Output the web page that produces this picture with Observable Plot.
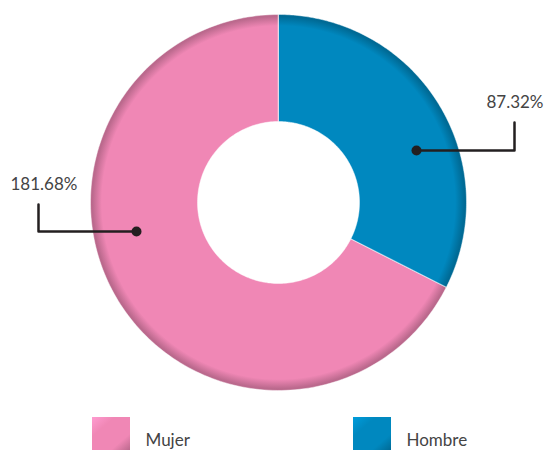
<!DOCTYPE html>
<html>
<head>
<meta charset="utf-8">
<script src="https://cdn.jsdelivr.net/npm/d3@7"></script>
<script src="https://cdn.jsdelivr.net/npm/@observablehq/plot@0.6"></script>
<style>
  html, body { margin: 0; padding: 0; background: #fff; }
  #chart svg { display: block; }
</style>
</head>
<body>
<div id="chart"></div>
<script>
// ---- data ----
const categories = ["Hombre", "Mujer"];
const values = [87.32, 181.68];
const labels = ["87.32%", "181.68%"];
const colors = ["#0088bf", "#f087b5"];
const legendOrder = ["Mujer", "Hombre"];

// ---- layout (pixel space) ----
const W = 547, H = 450;
const cx = 278, cy = 202, R = 188, r0 = 81;

const pie = d3.pie().sort(null).value(d => d.value);
const slices = pie(categories.map((c, i) => ({cat: c, value: values[i]})));

// polygon points for each slice
const arcPts = [];
slices.forEach(s => {
  const n = 180;
  const pts = [];
  for (let k = 0; k <= n; k++) {
    const a = s.startAngle + (s.endAngle - s.startAngle) * k / n;
    pts.push([cx + R * Math.sin(a), cy - R * Math.cos(a)]);
  }
  for (let k = n; k >= 0; k--) {
    const a = s.startAngle + (s.endAngle - s.startAngle) * k / n;
    pts.push([cx + r0 * Math.sin(a), cy - r0 * Math.cos(a)]);
  }
  pts.forEach(p => arcPts.push({cat: s.data.cat, x: p[0], y: p[1]}));
});

// leader lines (label anchors placed as in reference)
const leaders = [
  {cat: "Hombre", pts: [[514, 122], [514, 150], [416, 150]], text: [543, 107], anchor: "end"},
  {cat: "Mujer", pts: [[38, 204], [38, 231], [136, 231]], text: [10, 189], anchor: "start"}
];
const leaderPts = leaders.flatMap(l => l.pts.map(p => ({cat: l.cat, x: p[0], y: p[1]})));
const dots = leaders.map(l => ({cat: l.cat, x: l.pts[2][0], y: l.pts[2][1]}));
const labelRows = leaders.map(l => ({
  label: labels[categories.indexOf(l.cat)], x: l.text[0], y: l.text[1], anchor: l.anchor
}));

const legendPos = {Mujer: 92, Hombre: 353};
const legendRows = legendOrder.map(c => ({cat: c, x1: legendPos[c], x2: legendPos[c] + 38, y1: 417, y2: 450}));

const gradId = c => "grad-" + c;
const fillFor = c => `url(#${gradId(c)})`;
const font = "Lato, 'Open Sans', sans-serif";

const chart = Plot.plot({
  width: W, height: H,
  margin: 0,
  x: {domain: [0, W], range: [0, W], axis: null},
  y: {domain: [0, H], range: [0, H], axis: null},
  style: {fontFamily: font, background: "#fff"},
  marks: [
    ...categories.map(c => Plot.line(arcPts.filter(d => d.cat === c), {
      x: "x", y: "y", fill: fillFor(c), stroke: "none", curve: "linear-closed"
    })),
    Plot.line(arcPts, {x: "x", y: "y", z: "cat", stroke: "#ffffff", strokeOpacity: 0.45, strokeWidth: 1, curve: "linear-closed"}),
    ...leaders.map(l => Plot.line(leaderPts.filter(d => d.cat === l.cat), {
      x: "x", y: "y", stroke: "#231f20", strokeWidth: 2.5, curve: "linear"
    })),
    Plot.dot(dots, {x: "x", y: "y", r: 5, fill: "#231f20", stroke: "none"}),
    Plot.text(labelRows.filter(d => d.anchor === "end"), {x: "x", y: "y", text: "label", textAnchor: "end", lineAnchor: "bottom",
      fontSize: 17, fill: "#444"}),
    Plot.text(labelRows.filter(d => d.anchor === "start"), {x: "x", y: "y", text: "label", textAnchor: "start", lineAnchor: "bottom",
      fontSize: 17, fill: "#444"}),
    ...legendRows.map(d => Plot.rect([d], {x1: "x1", x2: "x2", y1: "y1", y2: "y2", fill: "url(#lg-" + d.cat + ")"})),
    Plot.text(legendRows, {x: d => d.x2 + 15, y: 445, text: "cat", textAnchor: "start", lineAnchor: "bottom",
      fontSize: 17, fill: "#444"})
  ]
});

// gradients for beveled look
const ns = "http://www.w3.org/2000/svg";
const defs = document.createElementNS(ns, "defs");
categories.forEach((c, i) => {
  const base = d3.color(colors[i]);
  const dark = base.darker(0.7).formatHex();
  const g = document.createElementNS(ns, "radialGradient");
  g.setAttribute("id", gradId(c));
  g.setAttribute("gradientUnits", "userSpaceOnUse");
  g.setAttribute("cx", cx); g.setAttribute("cy", cy); g.setAttribute("r", R);
  [[0, base.formatHex()], [0.94, base.formatHex()], [0.99, dark], [1, dark]].forEach(([o, col]) => {
    const s = document.createElementNS(ns, "stop");
    s.setAttribute("offset", o); s.setAttribute("stop-color", col);
    g.appendChild(s);
  });
  defs.appendChild(g);
  const lg = document.createElementNS(ns, "linearGradient");
  lg.setAttribute("id", "lg-" + c);
  lg.setAttribute("x1", "0"); lg.setAttribute("y1", "0"); lg.setAttribute("x2", "1"); lg.setAttribute("y2", "1");
  [[0, base.brighter(0.4).formatHex()], [0.3, base.formatHex()], [0.75, base.formatHex()], [1, dark]].forEach(([o, col]) => {
    const s = document.createElementNS(ns, "stop");
    s.setAttribute("offset", o); s.setAttribute("stop-color", col);
    lg.appendChild(s);
  });
  defs.appendChild(lg);
});
chart.insertBefore(defs, chart.firstChild);

document.getElementById("chart").appendChild(chart);
</script>
</body>
</html>
